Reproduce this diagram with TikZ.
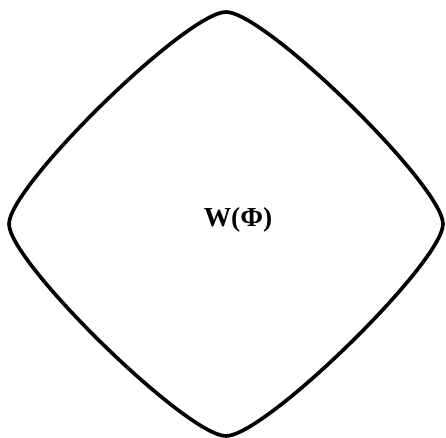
\documentclass[tikz,border=0pt]{standalone}
\usepackage{fontspec}
\setmainfont{Liberation Serif}
\begin{document}
\begin{tikzpicture}[x=0.025cm, y=-0.025cm,
  outline/.style={line width=2.6pt, line join=round},
  label/.style={font=\bfseries\fontsize{19.5}{22}\selectfont}]
\useasboundingbox (0,0) rectangle (446,438);
% tips of the rounded diamond
\coordinate (N) at (226,12);
\coordinate (E) at (443,224);
\coordinate (S) at (226,436);
\coordinate (W) at (9,224);
% outline, edges bulging slightly outwards
\draw[outline] (N) .. controls +(39,0) and +(0,-38) .. (E)
  .. controls +(0,38) and +(39,0) .. (S)
  .. controls +(-39,0) and +(0,38) .. (W)
  .. controls +(0,-38) and +(-39,0) .. (N) -- cycle;
\node[label] (wphi) at (238,220) {W(Φ)};
\end{tikzpicture}
\end{document}
